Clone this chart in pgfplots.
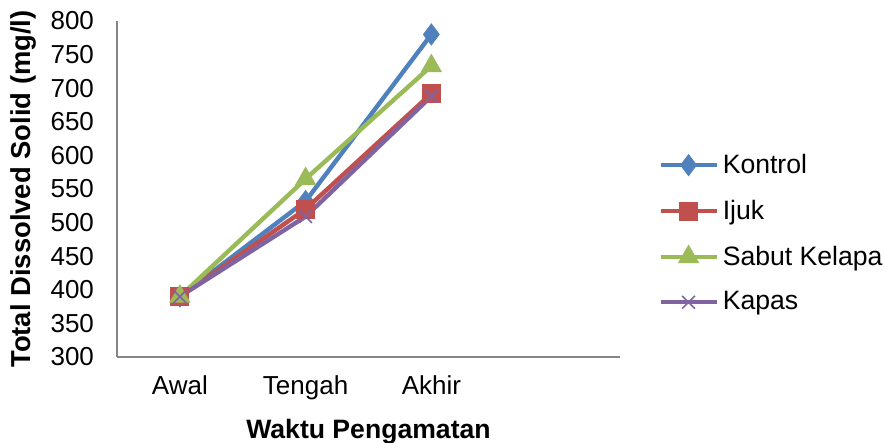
\documentclass[border=0pt]{standalone}
\usepackage{pgfplots}
\pgfplotsset{compat=1.18}
\usepackage{fontspec}
\setmainfont{Liberation Sans}
\definecolor{cK}{HTML}{4F81BD}
\definecolor{cI}{HTML}{C0504D}
\definecolor{cS}{HTML}{9BBB59}
\definecolor{cP}{HTML}{8064A2}
\definecolor{axgray}{HTML}{868686}
\begin{document}
\begin{tikzpicture}
\path[use as bounding box] (0,0) rectangle (442pt,221.5pt);
\begin{axis}[
  at={(58.5pt,43pt)}, anchor=south west,
  scale only axis, width=251.5pt, height=168pt,
  xmin=0.5, xmax=4.5, ymin=300, ymax=800,
  xtick={1,2,3}, xticklabels={Awal,Tengah,Akhir},
  ytick={300,350,...,800},
  axis x line*=bottom, axis y line*=left,
  axis line style={axgray, line width=0.6pt, -},
  major tick length=0pt,
  tick label style={font=\fontsize{13}{15}\selectfont},
  /pgf/number format/assume math mode=true,
  yticklabel style={xshift=-8pt},
  xticklabel style={yshift=-6pt},
  xlabel={\textbf{Waktu Pengamatan}},
  ylabel={\textbf{Total Dissolved Solid (mg/l)}},
  xlabel style={font=\fontsize{13.3}{15}\selectfont, at={(axis description cs:0.5,-0.222)}, anchor=center},
  ylabel style={font=\fontsize{13.7}{15}\selectfont, at={(axis description cs:-0.185,0.5)}, anchor=center, rotate=0},
  legend style={at={(1.0755,0.3676)}, anchor=west, draw=none, fill=none,
    font=\fontsize{13.3}{15}\selectfont, row sep=7.8pt, inner sep=0pt},
  legend cell align=left,
  legend image code/.code={\draw[#1] (0pt,0pt) -- (28pt,0pt); \draw[#1, mark repeat=2, mark phase=2] plot coordinates {(0pt,0pt) (14pt,0pt) (28pt,0pt)};},
  every axis plot/.append style={line width=2.2pt},
  clip=false,
]
\addplot[cK, mark=diamond*, mark size=5.2pt, mark options={solid, line width=0.5pt}] coordinates {(1,390) (2,532) (3,780)};
\addlegendentry{Kontrol}
\addplot[cI, mark=square*, mark size=4.5pt, mark options={solid, line width=0.5pt}] coordinates {(1,390) (2,520) (3,692)};
\addlegendentry{Ijuk}
\addplot[cS, mark=triangle*, mark size=5.7pt, mark options={solid, line width=0.5pt}] coordinates {(1,390) (2,565) (3,733)};
\addlegendentry{Sabut Kelapa}
\addplot[cP, mark=x, mark size=4.5pt, mark options={solid, line width=0.8pt}] coordinates {(1,390) (2,509) (3,688)};
\addlegendentry{Kapas}
\end{axis}
\end{tikzpicture}
\end{document}
